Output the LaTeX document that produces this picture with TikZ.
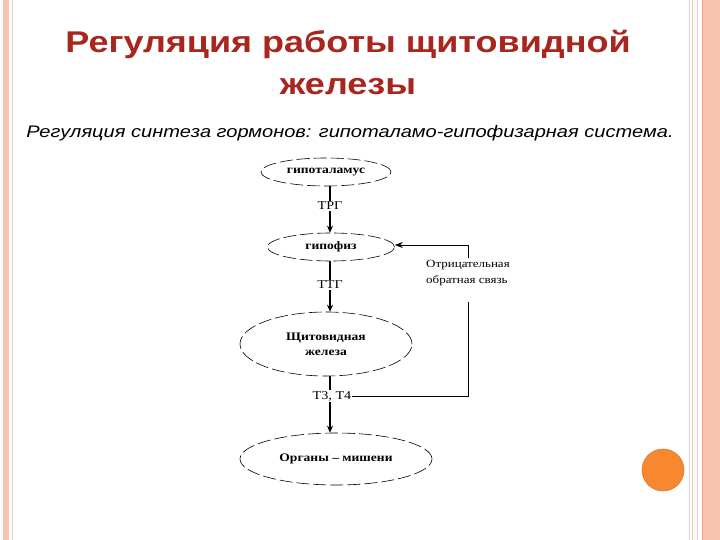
\documentclass[tikz,border=0pt]{standalone}
\usepackage{fontspec}
\setmainfont{Liberation Serif}[FakeStretch=1.18]
\newfontfamily\titlefont{Liberation Sans}[FakeStretch=1.2]
\usetikzlibrary{arrows.meta,shapes.geometric}
\definecolor{titlered}{HTML}{A8261E}
\definecolor{stripe}{HTML}{F9C4AF}
\definecolor{stripeline}{HTML}{F2A086}
\definecolor{dotorange}{HTML}{F7882F}
\definecolor{dotedge}{HTML}{E07A2A}
\begin{document}
\begin{tikzpicture}[x=1pt,y=1pt,
  organ/.style={ellipse,draw,line width=0.6pt,dash pattern=on 13pt off 4pt,inner sep=0pt,font=\fontsize{11.5}{15}\selectfont\bfseries,align=center},
  hormone/.style={inner sep=1pt,font=\fontsize{12}{13}\selectfont},
  link/.style={line width=1.4pt},
  arr/.style={line width=1.4pt,-{Stealth[length=7pt,width=6pt]}},
  fb/.style={line width=0.9pt}]
\useasboundingbox (0,0) rectangle (720,-540);
\fill[white] (0,0) rectangle (720,-540);
% borders
\fill[stripe] (3,0) rectangle (9,-540);
\draw[stripeline!60,line width=0.6pt] (12,0) -- (12,-540);
\draw[stripeline!50,line width=0.8pt] (689,0) -- (689,-540);
\draw[stripeline!60,line width=1pt] (692.5,0) -- (692.5,-540);
\draw[stripeline!50,line width=0.6pt] (697.5,0) -- (697.5,-540);
\fill[stripe] (702,0) rectangle (720,-540);
\draw[stripeline,line width=1pt] (702.5,0) -- (702.5,-540);
% title
\node[font=\titlefont\fontsize{30}{42}\selectfont\bfseries,text=titlered,align=center] (title) at (348,-62) {Регуляция работы щитовидной\\железы};
\node[font=\titlefont\fontsize{16.7}{20}\selectfont\itshape] (sub) at (350,-133) {Регуляция синтеза гормонов: гипоталамо-гипофизарная система.};
% organs
\node[organ,minimum width=130pt,minimum height=28pt] (hyp) at (326,-172) {гипоталамус};
\node[organ,minimum width=127pt,minimum height=28pt] (pit) at (331,-247) {гипофиз};
\node[organ,minimum width=172pt,minimum height=64pt] (thy) at (326,-344) {Щитовидная\\железа};
\node[organ,minimum width=192pt,minimum height=52pt] (tgt) at (336,-459) {Органы – мишени};
% hormones
\node[hormone] (trg) at (330,-206) {ТРГ};
\node[hormone] (ttg) at (330,-285) {ТТГ};
\node[hormone] (t34) at (332,-396) {Т3, Т4};
\draw[link] (trg |- hyp.south) -- (trg.north);
\draw[arr] (trg.south) -- (trg |- pit.north);
\draw[link] (ttg |- pit.south) -- (ttg.north);
\draw[arr] (ttg.south) -- (ttg |- thy.north);
\draw[link] (ttg |- thy.south) -- (ttg |- t34.north);
\draw[arr] (ttg |- t34.south) -- (ttg |- tgt.north);
% feedback
\node[hormone,align=left,anchor=north west,font=\fontsize{11}{16}\selectfont] (fbtext) at (425,-259) {Отрицательная\\обратная связь};
\coordinate (fb1) at (468,-396);
\coordinate (fb2) at (468,-302);
\coordinate (fb3) at (468,-258);
\coordinate (fb4) at (468,-245);
\draw[fb] (t34.east) -- (fb1) -- (fb2);
\draw[fb] (fb3) -- (fb4);
\draw[fb,-{Stealth[length=8pt,width=6pt]}] (fb4) -- (pit.east |- fb4);
% orange dot
\fill[dotorange,draw=dotedge,line width=0.6pt] (663,-470) circle (21);
\end{tikzpicture}
\end{document}
